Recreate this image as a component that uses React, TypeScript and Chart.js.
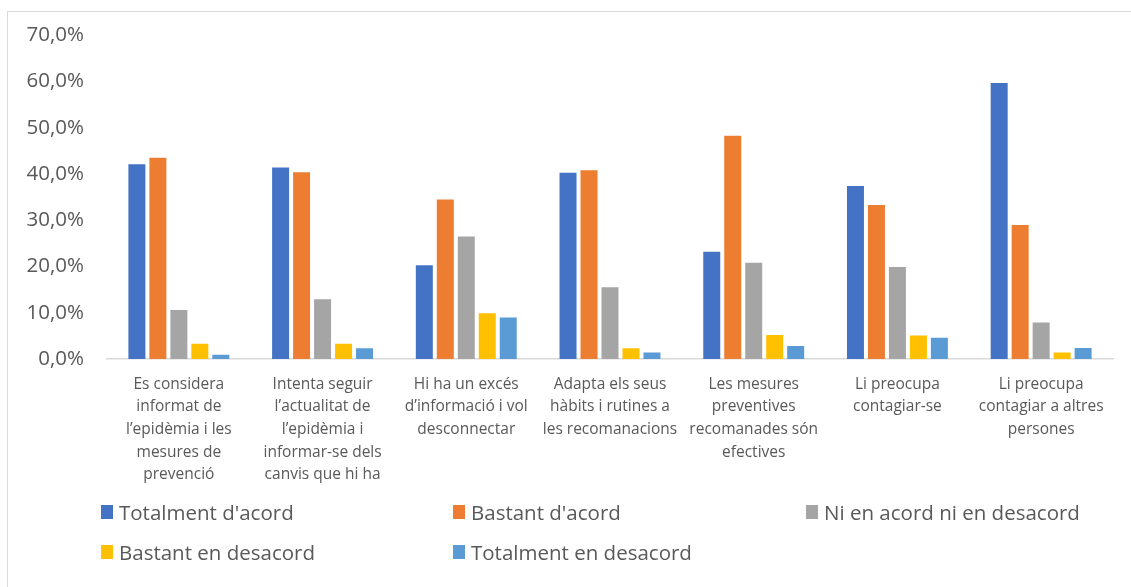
import React, { useEffect, useRef } from "react";
import { Chart, registerables } from "chart.js";

Chart.register(...registerables);

const categories: string[][] = [
  ["Es considera", "informat de", "l’epidèmia i les", "mesures de", "prevenció"],
  ["Intenta seguir", "l’actualitat de", "l’epidèmia i", "informar-se dels", "canvis que hi ha"],
  ["Hi ha un excés", "d’informació i vol", "desconnectar"],
  ["Adapta els seus", "hàbits i rutines a", "les recomanacions"],
  ["Les mesures", "preventives", "recomanades són", "efectives"],
  ["Li preocupa", "contagiar-se"],
  ["Li preocupa", "contagiar a altres", "persones"],
];

const seriesNames = [
  "Totalment d'acord",
  "Bastant d'acord",
  "Ni en acord ni en desacord",
  "Bastant en desacord",
  "Totalment en desacord",
];

const totalmentAcord = [42.1, 41.4, 20.3, 40.3, 23.2, 37.4, 59.7];
const bastantAcord = [43.5, 40.4, 34.5, 40.8, 48.3, 33.3, 29.0];
const niAcordNiDesacord = [10.6, 12.9, 26.5, 15.5, 20.8, 19.9, 7.9];
const bastantDesacord = [3.3, 3.3, 9.9, 2.3, 5.2, 5.1, 1.4];
const totalmentDesacord = [0.9, 2.3, 9.0, 1.4, 2.8, 4.6, 2.4];

const colors = ["#4472C4", "#ED7D31", "#A5A5A5", "#FFC000", "#5B9BD5"];

const yTicks = [0, 10, 20, 30, 40, 50, 60, 70];

const FONT = "'Open Sans', 'Liberation Sans', sans-serif";
const TEXT = "#595959";

export default function App() {
  const ref = useRef<HTMLCanvasElement | null>(null);

  useEffect(() => {
    if (!ref.current) return;
    const values = [totalmentAcord, bastantAcord, niAcordNiDesacord, bastantDesacord, totalmentDesacord];
    const chart = new Chart(ref.current, {
      type: "bar",
      data: {
        labels: categories,
        datasets: seriesNames.map((name, i) => ({
          label: name,
          data: values[i],
          backgroundColor: colors[i],
          borderWidth: 0,
          categoryPercentage: 0.73,
          barPercentage: 0.81,
        })),
      },
      options: {
        animation: false,
        responsive: true,
        maintainAspectRatio: false,
        layout: { padding: { top: 32, right: 18, bottom: 98, left: 0 } },
        plugins: { legend: { display: false }, tooltip: { enabled: false } },
        scales: {
          x: {
            grid: { display: false },
            border: { display: true, color: "#d9d9d9", width: 1.5 },
            ticks: {
              color: TEXT,
              font: { family: FONT, size: 15.5, lineHeight: 1.46 },
              maxRotation: 0,
              autoSkip: false,
              padding: 6,
            },
            afterFit: (s: any) => {
              s.height = 130;
            },
          },
          y: {
            min: 0,
            max: 70,
            afterBuildTicks: (s: any) => {
              s.ticks = yTicks.map((v) => ({ value: v }));
            },
            grid: { display: false, drawTicks: false },
            border: { display: false },
            ticks: {
              color: TEXT,
              font: { family: FONT, size: 20.5 },
              padding: 23,
              callback: (v: any) => Number(v).toFixed(1).replace(".", ",") + "%",
            },
            afterFit: (s: any) => {
              s.width = 107;
            },
          },
        },
      },
    });
    return () => chart.destroy();
  }, []);

  const legendPos = [
    { x: 101, y: 512 },
    { x: 453, y: 512 },
    { x: 806, y: 512 },
    { x: 101, y: 552 },
    { x: 453, y: 552 },
  ];

  return (
    <div style={{ position: "fixed", left: 0, top: 0, width: 1131, height: 587, background: "#fff", overflow: "hidden" }}>
      <div
        style={{
          position: "absolute",
          left: 7,
          top: 11,
          width: 1200,
          height: 700,
          border: "1px solid #d9d9d9",
          boxSizing: "border-box",
        }}
      />
      <div style={{ position: "absolute", left: 0, top: 0, width: 1131, height: 587 }}>
        <canvas ref={ref} />
      </div>
      {seriesNames.map((name, i) => (
        <div
          key={name}
          style={{
            position: "absolute",
            left: legendPos[i].x,
            top: legendPos[i].y - 15,
            height: 30,
            display: "flex",
            alignItems: "center",
            fontFamily: FONT,
            fontSize: 20.5,
            color: TEXT,
            whiteSpace: "nowrap",
          }}
        >
          <span style={{ display: "inline-block", width: 12, height: 14, background: colors[i], marginRight: 6 }} />
          <span>{name}</span>
        </div>
      ))}
    </div>
  );
}
